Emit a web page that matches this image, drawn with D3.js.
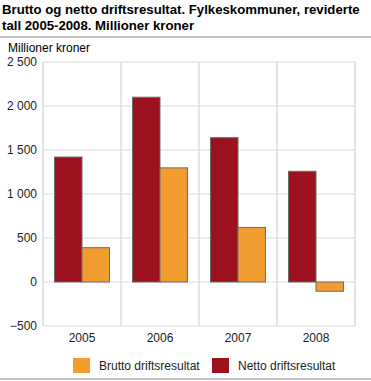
<!DOCTYPE html>
<html>
<head>
<meta charset="utf-8">
<script src="https://cdn.jsdelivr.net/npm/d3@7"></script>
<style>
  body { margin: 0; background: #fff; }
  svg { font-family: "Liberation Sans", Arial, sans-serif; }
</style>
</head>
<body>
<svg id="chart" width="371" height="381"></svg>
<script>
var years = ['2005', '2006', '2007', '2008'];
var seriesNames = ['Netto driftsresultat', 'Brutto driftsresultat'];
var netto = [1420, 2100, 1640, 1258];
var brutto = [390, 1297, 620, -105];
var yTicks = [-500, 0, 500, 1000, 1500, 2000, 2500];

var colors = { 'Netto driftsresultat': '#9b111e', 'Brutto driftsresultat': '#f39c2f' };

var svg = d3.select('#chart');
var margin = { left: 43, right: 16, top: 62, bottom: 55 };
var width = 371, height = 381;

var x0 = d3.scaleBand().domain(years).range([margin.left, width - margin.right]);
var x1 = d3.scaleBand().domain(seriesNames).range([0, x0.bandwidth()]).paddingOuter(0.42);
var y = d3.scaleLinear().domain([-500, 2500]).range([height - margin.bottom, margin.top]);

// title
var title = svg.append('text')
    .style('font-size', '13.2px')
    .style('font-weight', 'bold')
    .style('fill', '#000');
title.append('tspan').attr('x', 2).attr('y', 14)
    .text('Brutto og netto driftsresultat. Fylkeskommuner, reviderte');
title.append('tspan').attr('x', 2).attr('y', 30)
    .text('tall 2005-2008. Millioner kroner');

svg.append('line')
    .attr('x1', 0).attr('x2', width)
    .attr('y1', 37).attr('y2', 37)
    .style('stroke', '#c3c3c3').style('stroke-width', 2);

svg.append('text')
    .attr('x', 8).attr('y', 52)
    .style('font-size', '12px')
    .text('Millioner kroner');

// grid
var grid = svg.append('g');
grid.selectAll('.hgrid')
    .data(yTicks).enter().append('line')
    .attr('x1', margin.left).attr('x2', width - margin.right)
    .attr('y1', d => y(d)).attr('y2', d => y(d))
    .style('stroke', '#dcdce0').style('stroke-width', 1);

var vlines = years.map(d => x0(d)).concat([width - margin.right]);
grid.selectAll('.vgrid')
    .data(vlines).enter().append('line')
    .attr('x1', d => d).attr('x2', d => d)
    .attr('y1', y(2500)).attr('y2', y(-500))
    .style('stroke', '#dcdce0').style('stroke-width', 1.5);

// y axis
var yAxis = svg.append('g')
    .attr('transform', `translate(${margin.left},0)`)
    .call(d3.axisLeft(y).tickValues(yTicks).tickSize(0).tickPadding(6)
        .tickFormat(d => d3.format(',')(d).replace(/,/g, ' ')));
yAxis.select('.domain').remove();
yAxis.selectAll('text').style('font-size', '12px').style('fill', '#222').style('font-family', 'Liberation Sans, Arial, sans-serif');

// x axis
var xAxis = svg.append('g')
    .attr('transform', `translate(0,${y(-500)})`)
    .call(d3.axisBottom(x0).tickSize(0).tickPadding(7));
xAxis.select('.domain').remove();
xAxis.selectAll('text').style('font-size', '12px').style('fill', '#222').style('font-family', 'Liberation Sans, Arial, sans-serif');

// bars
var rows = years.map((yr, i) => ({ year: yr, values: [
    { key: 'Netto driftsresultat', value: netto[i] },
    { key: 'Brutto driftsresultat', value: brutto[i] }
] }));

var group = svg.selectAll('.year')
    .data(rows).enter().append('g')
    .attr('transform', d => `translate(${x0(d.year)},0)`);

group.selectAll('rect')
    .data(d => d.values).enter().append('rect')
    .attr('x', d => x1(d.key))
    .attr('width', x1.bandwidth())
    .attr('y', d => y(Math.max(0, d.value)))
    .attr('height', d => Math.abs(y(d.value) - y(0)))
    .style('fill', d => colors[d.key])
    .style('stroke', '#6b6b6b')
    .style('stroke-width', 1);

// legend
var legendItems = [
    { key: 'Brutto driftsresultat', x: 73 },
    { key: 'Netto driftsresultat', x: 212 }
];
var legend = svg.selectAll('.legend')
    .data(legendItems).enter().append('g')
    .attr('transform', d => `translate(${d.x},358)`);
legend.append('rect')
    .attr('width', 17).attr('height', 15)
    .style('fill', d => colors[d.key]);
legend.append('text')
    .attr('x', 26).attr('y', 12)
    .style('font-size', '12px')
    .style('fill', '#222')
    .text(d => d.key);

svg.append('line')
    .attr('x1', 0).attr('x2', width)
    .attr('y1', 379).attr('y2', 379)
    .style('stroke', '#c3c3c3').style('stroke-width', 2);
</script>
</body>
</html>
